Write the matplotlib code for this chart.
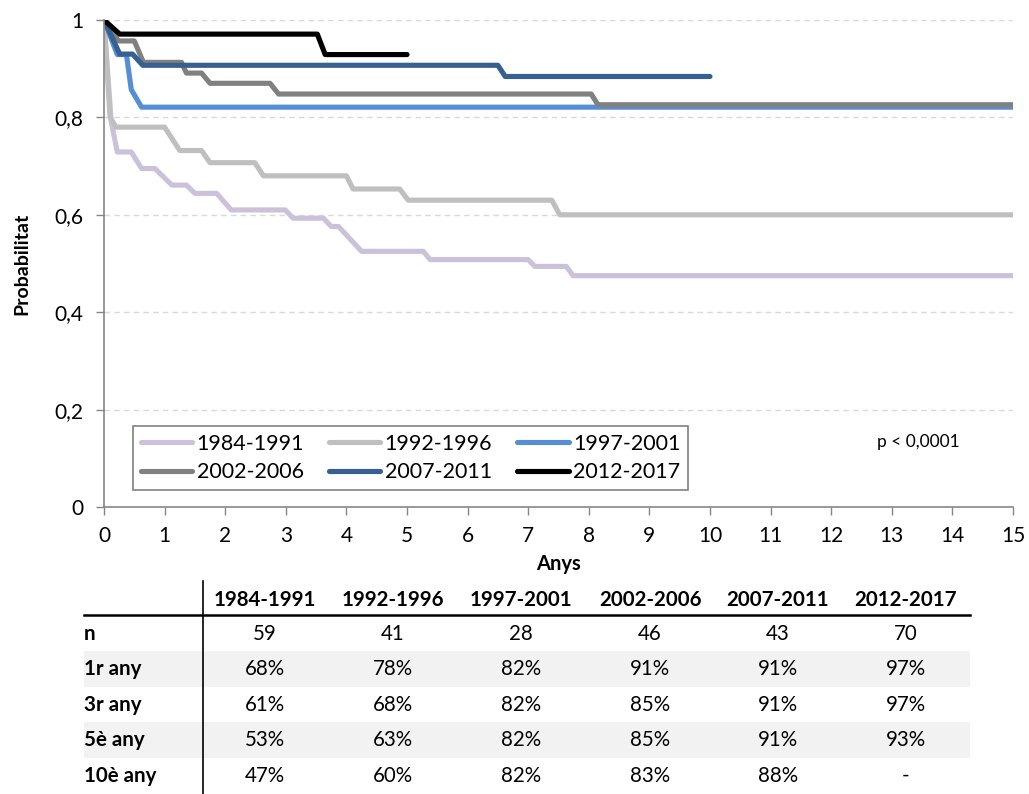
import matplotlib
matplotlib.use('Agg')
import matplotlib.pyplot as plt
from matplotlib.patches import Rectangle

plt.rcParams['font.family'] = ['Lato', 'DejaVu Sans']

periods = ['1984-1991', '1992-1996', '1997-2001', '2002-2006', '2007-2011', '2012-2017']
colors = ['#CCC1DA', '#BFBFBF', '#558ED5', '#808080', '#376092', '#000000']

# Kaplan-Meier curves (years, probability)
t_8491 = [0, 0.12, 0.22, 0.45, 0.62, 0.84, 1.12, 1.36, 1.5, 1.86, 2.1, 2.99, 3.12, 3.62, 3.75, 3.87, 4.25, 5.27, 5.38, 7.0, 7.11, 7.63, 7.74, 15]
s_8491 = [1, 0.79, 0.729, 0.729, 0.695, 0.695, 0.661, 0.661, 0.644, 0.644, 0.610, 0.610, 0.593, 0.593, 0.576, 0.576, 0.525, 0.525, 0.508, 0.508, 0.494, 0.494, 0.475, 0.475]
t_9296 = [0, 0.1, 0.2, 1.0, 1.25, 1.61, 1.75, 2.49, 2.63, 4.0, 4.11, 4.88, 5.02, 7.39, 7.52, 15]
s_9296 = [1, 0.80, 0.78, 0.78, 0.732, 0.732, 0.707, 0.707, 0.68, 0.68, 0.653, 0.653, 0.63, 0.63, 0.60, 0.60]
t_9701 = [0, 0.22, 0.37, 0.45, 0.62, 15]
s_9701 = [1, 0.929, 0.929, 0.857, 0.821, 0.821]
t_0206 = [0, 0.24, 0.5, 0.65, 1.28, 1.36, 1.61, 1.75, 2.74, 2.88, 8.04, 8.15, 15]
s_0206 = [1, 0.957, 0.957, 0.913, 0.913, 0.891, 0.891, 0.870, 0.870, 0.848, 0.848, 0.826, 0.826]
t_0711 = [0, 0.26, 0.47, 0.64, 6.5, 6.62, 10]
s_0711 = [1, 0.930, 0.930, 0.907, 0.907, 0.884, 0.884]
t_1217 = [0, 0.26, 3.52, 3.65, 5.0]
s_1217 = [1, 0.971, 0.971, 0.929, 0.929]

curves = [(t_8491, s_8491), (t_9296, s_9296), (t_9701, s_9701),
          (t_0206, s_0206), (t_0711, s_0711), (t_1217, s_1217)]

# summary table
row_labels = ['n', '1r any', '3r any', '5è any', '10è any']
n_vals = [59, 41, 28, 46, 43, 70]
y1 = [68, 78, 82, 91, 91, 97]
y3 = [61, 68, 82, 85, 91, 97]
y5 = [53, 63, 82, 85, 91, 93]
y10 = [47, 60, 82, 83, 88, None]

W, H = 1029, 794
fig = plt.figure(figsize=(W / 100, H / 100), dpi=100)
ax = fig.add_axes([104 / W, 1 - 507 / H, 909 / W, 487 / H])

lines = []
for (t, s), lab, c in zip(curves, periods, colors):
    ln, = ax.plot(t, s, color=c, lw=3.7, label=lab, solid_capstyle='round', solid_joinstyle='round')
    lines.append(ln)

ax.set_xlim(0, 15)
ax.set_ylim(0, 1)
ax.set_xticks(range(16))
ax.set_yticks([0, 0.2, 0.4, 0.6, 0.8, 1])
ax.set_yticklabels(['0', '0,2', '0,4', '0,6', '0,8', '1'])
for y in [0.2, 0.4, 0.6, 0.8, 1.0]:
    ax.axhline(y, color='#D9D9D9', lw=1, ls=(0, (4, 3)), zorder=0)
for sp in ['top', 'right']:
    ax.spines[sp].set_visible(False)
for sp in ['left', 'bottom']:
    ax.spines[sp].set_color('#868686')
    ax.spines[sp].set_linewidth(1.2)
ax.tick_params(axis='both', colors='#868686', labelcolor='black', labelsize=15, length=6, width=1)
ax.tick_params(axis='x', pad=8)
ax.tick_params(axis='y', pad=9)
ax.set_xlabel('Anys', fontweight='bold', fontsize=14.5)
ax.set_ylabel('Probabilitat', fontweight='bold', fontsize=14)
ax.xaxis.set_label_coords(0.5, -0.096)
ax.yaxis.set_label_coords(-0.081, 0.5)

# legend filled row by row as in the original
order = [0, 3, 1, 4, 2, 5]
leg = ax.legend([lines[i] for i in order], [periods[i] for i in order], ncol=3,
                loc='lower left', bbox_to_anchor=(29 / 909, 17 / 487), fontsize=15.5,
                handlelength=2.4, handletextpad=0.2, columnspacing=1.15, labelspacing=0.4,
                borderpad=0.35, borderaxespad=0, fancybox=False, framealpha=1, edgecolor='#808080')
leg.get_frame().set_linewidth(1.2)

ax.text(0.8955, 0.1335, 'p < 0,0001', transform=ax.transAxes, ha='center', va='center', fontsize=12.5)

# table drawn in pixel units of the original image
tax = fig.add_axes([0, 0, 1, 219 / H])
tax.set_xlim(0, W)
tax.set_ylim(H, 575)
tax.axis('off')

col_x = [265, 393, 521, 650, 778, 906]
row_y = [634, 669, 705, 740, 776]
row_h = 35.5
for i in [1, 3]:
    tax.add_patch(Rectangle((84, row_y[i] - row_h / 2), 886, row_h, color='#F2F2F2', lw=0, zorder=0))
tax.plot([203, 203], [581, 794], color='black', lw=1.2)
tax.plot([84, 970], [615, 615], color='black', lw=1.8)

for x, p in zip(col_x, periods):
    tax.text(x, 600, p, ha='center', va='center', fontsize=14.8, fontweight='bold')

rows = [[str(v) for v in n_vals],
        [f'{v}%' for v in y1],
        [f'{v}%' for v in y3],
        [f'{v}%' for v in y5],
        [f'{v}%' if v is not None else '-' for v in y10]]
for y, lab, vals in zip(row_y, row_labels, rows):
    tax.text(84, y, lab, ha='left', va='center', fontsize=14.8, fontweight='bold')
    for x, v in zip(col_x, vals):
        tax.text(x, y, v, ha='center', va='center', fontsize=14.8)

fig.savefig('out.png', dpi=100)
